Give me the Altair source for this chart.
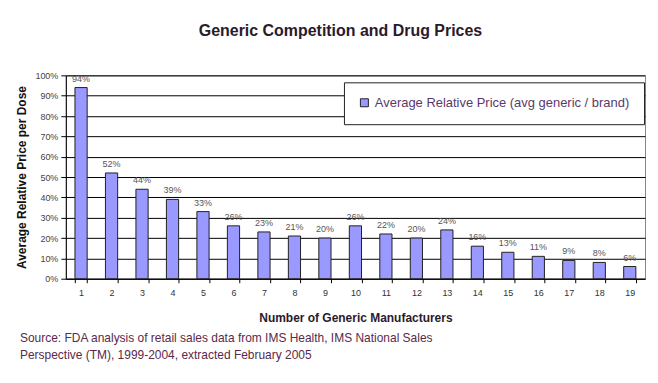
import altair as alt
import pandas as pd

manufacturers = [str(i) for i in range(1, 20)]
prices = [94, 52, 44, 39, 33, 26, 23, 21, 20, 26, 22, 20, 24, 16, 13, 11, 9, 8, 6]
labels = [f"{v}%" for v in prices]
series_name = "Average Relative Price (avg generic / brand)"
source_lines = ["Source:  FDA analysis of retail sales data from IMS Health, IMS National Sales",
                "Perspective (TM), 1999-2004, extracted February 2005"]
y_ticks = [0, 0.1, 0.2, 0.3, 0.4, 0.5, 0.6, 0.7, 0.8, 0.9, 1.0]

df = pd.DataFrame({"n": manufacturers, "price": [v / 100 for v in prices],
                   "label": labels, "series": series_name})
src = pd.DataFrame({"text": ["\n".join(source_lines)]})

W, H = 581, 204
FONT = "Liberation Sans"

x = alt.X("n:N", sort=manufacturers,
          scale=alt.Scale(paddingInner=0.6, paddingOuter=0.3),
          axis=alt.Axis(title="Number of Generic Manufacturers", labelAngle=0,
                        labelFontSize=9, labelColor="#333", labelPadding=6,
                        tickBand="extent", tickSize=4, tickColor="#000",
                        domainColor="#000", grid=False,
                        titleFontSize=12, titleFontWeight="bold", titleColor="#2a1a2a",
                        titlePadding=15, titleFont=FONT, labelFont=FONT))

y = alt.Y("price:Q", scale=alt.Scale(domain=[0, 1], nice=False),
          axis=alt.Axis(title="Average Relative Price per Dose", format=".0%",
                        values=y_ticks, labelOverlap=False,
                        labelFontSize=9, labelColor="#444", labelPadding=3,
                        tickSize=5, tickColor="#000", domainColor="#000",
                        grid=True, gridColor="#000", gridOpacity=1, gridWidth=1,
                        titleFontSize=12, titleFontWeight="bold", titleColor="#111",
                        titlePadding=6, titleFont=FONT, labelFont=FONT))

bars = alt.Chart(df).mark_bar(stroke="#222", strokeWidth=1).encode(
    x=x, y=y,
    color=alt.Color("series:N", scale=alt.Scale(range=["#9999FF"]),
                    legend=alt.Legend(title=None, orient="none", legendX=279, legendY=7,
                                      fillColor="white", strokeColor="#222",
                                      padding=14, symbolType="square", symbolSize=64,
                                      symbolStrokeColor="#222", symbolStrokeWidth=1,
                                      labelFontSize=13, labelColor="#5a3a6a",
                                      labelFont=FONT, labelLimit=400))
)

text = alt.Chart(df).mark_text(dy=-9, fontSize=9, color="#555", font=FONT).encode(
    x=x, y=y, text="label:N")

source = alt.Chart(src).mark_text(align="left", baseline="middle", fontSize=12,
                                  color="#5a2a4a", font=FONT, lineHeight=18,
                                  lineBreak="\n").encode(
    x=alt.value(-46), y=alt.value(H + 59), text="text:N")

chart = alt.layer(bars, text, source).properties(
    width=W, height=H,
    title=alt.TitleParams("Generic Competition and Drug Prices", fontSize=16,
                          fontWeight="bold", color="#2a1a2a", font=FONT,
                          anchor="middle", dx=-15, offset=32),
    padding={"left": 7, "top": 15, "right": 5, "bottom": 5},
).configure_view(stroke="#888", strokeWidth=1).configure_axisY(zindex=0)

chart.save("out.html", embed_options={"renderer": "svg", "actions": False})
